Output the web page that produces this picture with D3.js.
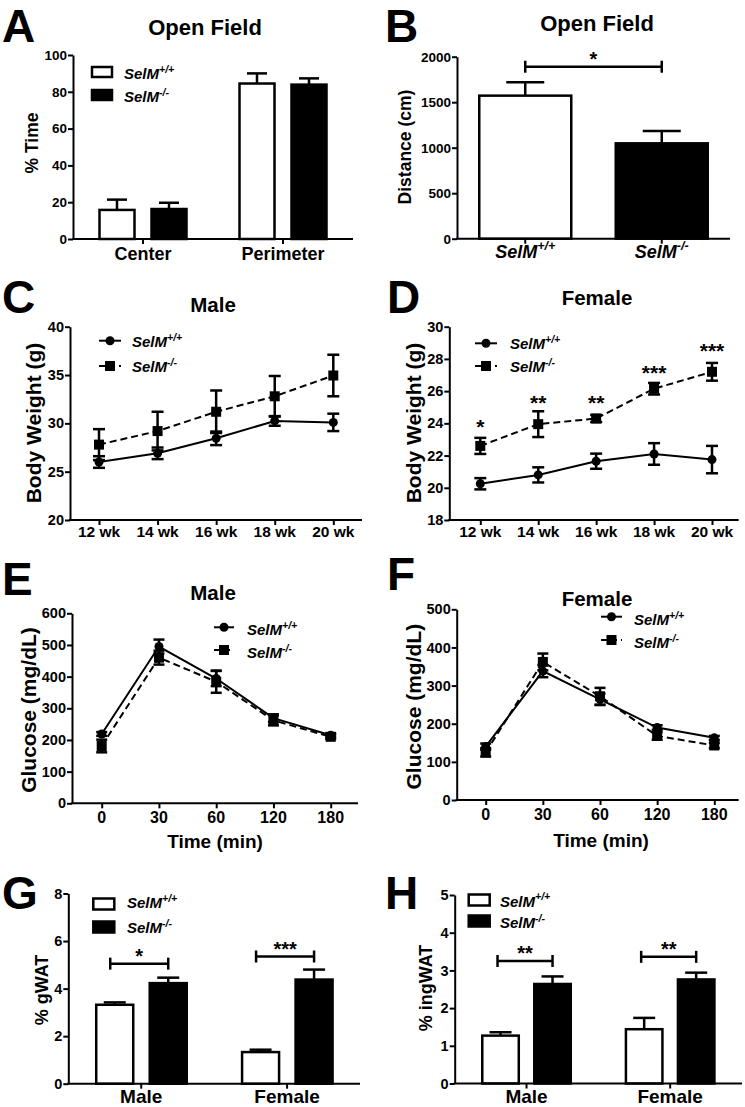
<!DOCTYPE html>
<html><head><meta charset="utf-8">
<script src="https://cdn.jsdelivr.net/npm/d3@7"></script>
<style>
html,body{margin:0;padding:0;background:#fff}
svg{display:block}
</style>
</head><body>
<svg id="fig" width="745" height="1107"></svg>
<script>
// ---------------- DATA ----------------
// Panel A: Open field, % time
const openFieldZones = ["Center", "Perimeter"];
const timeWT = [15.8, 84.5];
const timeWTErr = [5.6, 5.5];
const timeKO = [16.3, 83.9];
const timeKOErr = [3.4, 3.4];
const timeTicks = [0, 20, 40, 60, 80, 100];

// Panel B: Open field, distance
const genotypes = ["+/+", "-/-"];
const distance = [1572, 1048];
const distanceErr = [146, 135];
const distanceTicks = [0, 500, 1000, 1500, 2000];
const distanceSig = "*";
const distanceBracketAt = 1890;

// Panels C, D: body weight
const weeks = ["12 wk", "14 wk", "16 wk", "18 wk", "20 wk"];
const maleBW_WT = [26.0, 26.9, 28.45, 30.25, 30.1];
const maleBW_WTErr = [0.6, 0.6, 0.7, 0.5, 0.9];
const maleBW_KO = [27.8, 29.2, 31.2, 32.8, 34.95];
const maleBW_KOErr = [1.6, 2.0, 2.2, 2.1, 2.15];
const maleBWTicks = [20, 25, 30, 35, 40];
const femaleBW_WT = [20.25, 20.8, 21.65, 22.1, 21.75];
const femaleBW_WTErr = [0.35, 0.47, 0.47, 0.67, 0.85];
const femaleBW_KO = [22.6, 23.95, 24.3, 26.15, 27.2];
const femaleBW_KOErr = [0.5, 0.8, 0.22, 0.36, 0.55];
const femaleBWTicks = [18, 20, 22, 24, 26, 28, 30];
const femaleBWSig = ["*", "**", "**", "***", "***"];
const femaleBWSigAt = [24.1, 25.55, 25.55, 27.45, 28.8];

// Panels E, F: glucose tolerance
const gttTimes = ["0", "30", "60", "120", "180"];
const maleGlc_WT = [219, 495, 394, 269, 215];
const maleGlc_WTErr = [6, 22, 24, 12, 6];
const maleGlc_KO = [181, 460, 384, 262, 210];
const maleGlc_KOErr = [20, 22, 35, 16, 7];
const maleGlcTicks = [0, 100, 200, 300, 400, 500, 600];
const femaleGlc_WT = [140, 338, 264, 190, 163];
const femaleGlc_WTErr = [8, 16, 15, 6, 5];
const femaleGlc_KO = [125, 362, 272, 168, 143];
const femaleGlc_KOErr = [11, 22, 22, 10, 7];
const femaleGlcTicks = [0, 100, 200, 300, 400, 500];

// Panels G, H: fat pads
const sexes = ["Male", "Female"];
const gWAT_WT = [3.32, 1.33];
const gWAT_WTErr = [0.1, 0.1];
const gWAT_KO = [4.23, 4.38];
const gWAT_KOErr = [0.23, 0.42];
const gWATTicks = [0, 2, 4, 6, 8];
const gWATSig = ["*", "***"];
const gWATBracketAt = [5.05, 5.35];
const ingWAT_WT = [1.27, 1.44];
const ingWAT_WTErr = [0.09, 0.3];
const ingWAT_KO = [2.64, 2.76];
const ingWAT_KOErr = [0.2, 0.18];
const ingWATTicks = [0, 1, 2, 3, 4, 5];
const ingWATSig = ["**", "**"];
const ingWATBracketAt = [3.25, 3.36];

// ---------------- DRAWING ----------------
const svg = d3.select("#fig");
const FONT = "'Liberation Sans', Arial, Helvetica, sans-serif";

function txt(x, y, s, size, anchor, italic) {
  const t = svg.append("text").attr("x", x).attr("y", y)
    .attr("font-size", size).attr("font-weight", "bold").attr("font-family", FONT)
    .attr("fill", "#000").attr("text-anchor", anchor || "start");
  if (italic) t.attr("font-style", "italic");
  t.text(s);
  return t;
}
function genoText(x, y, sup, size, anchor) {
  const t = svg.append("text").attr("x", x).attr("y", y)
    .attr("font-size", size).attr("font-weight", "bold").attr("font-style", "italic")
    .attr("font-family", FONT).attr("fill", "#000").attr("text-anchor", anchor || "start");
  t.append("tspan").text("SelM");
  t.append("tspan").attr("dy", -size * 0.42).attr("font-size", size * 0.7).text(sup);
  return t;
}
function yLabel(s, cx, cy, size) {
  svg.append("text").attr("transform", `translate(${cx},${cy}) rotate(-90)`)
    .attr("text-anchor", "middle").attr("dy", "0.36em")
    .attr("font-size", size).attr("font-weight", "bold").attr("font-family", FONT)
    .attr("fill", "#000").text(s);
}
function yAxis(y, x, ticks, fs) {
  const g = svg.append("g").attr("transform", `translate(${x},0)`)
    .call(d3.axisLeft(y).tickValues(ticks).tickFormat(d => String(d))
      .tickSize(5).tickSizeOuter(0).tickPadding(1));
  g.select(".domain").attr("stroke", "#000").attr("stroke-width", 2);
  g.selectAll(".tick line").attr("stroke", "#000").attr("stroke-width", 2);
  g.selectAll(".tick text").attr("font-size", fs).attr("font-weight", "bold")
    .attr("font-family", FONT).attr("fill", "#000");
}
function xAxis(x, x0, x1, yb) {
  svg.append("line").attr("x1", x0 - 1).attr("x2", x1).attr("y1", yb).attr("y2", yb)
    .attr("stroke", "#000").attr("stroke-width", 2);
  const g = svg.append("g").attr("transform", `translate(0,${yb})`)
    .call(d3.axisBottom(x).tickSize(5).tickSizeOuter(0).tickFormat(""));
  g.select(".domain").remove();
  g.selectAll(".tick line").attr("stroke", "#000").attr("stroke-width", 2);
}
function vline(x, y1, y2, w) {
  svg.append("line").attr("x1", x).attr("x2", x).attr("y1", y1).attr("y2", y2)
    .attr("stroke", "#000").attr("stroke-width", w || 2.5);
}
function hline(x1, x2, y, w) {
  svg.append("line").attr("x1", x1).attr("x2", x2).attr("y1", y).attr("y2", y)
    .attr("stroke", "#000").attr("stroke-width", w || 2.5);
}

// bar panel
function barPanel(p) {
  const x = d3.scaleBand().domain(p.groups).range([p.x0, p.x1]);
  const y = d3.scaleLinear().domain([0, p.max]).range([p.yBot, p.yTop]);
  yAxis(y, p.x0, p.ticks, p.tickFs);
  const cxOf = b => x(b.g) + x.bandwidth() / 2 + b.off;
  const g = svg.append("g");
  g.selectAll("line.ev").data(p.bars).enter().append("line")
    .attr("x1", cxOf).attr("x2", cxOf)
    .attr("y1", b => y(b.v)).attr("y2", b => y(b.v + b.e))
    .attr("stroke", "#000").attr("stroke-width", 2.5);
  g.selectAll("line.cap").data(p.bars).enter().append("line")
    .attr("x1", b => cxOf(b) - p.capW / 2).attr("x2", b => cxOf(b) + p.capW / 2)
    .attr("y1", b => y(b.v + b.e)).attr("y2", b => y(b.v + b.e))
    .attr("stroke", "#000").attr("stroke-width", 2.5);
  g.selectAll("rect").data(p.bars).enter().append("rect")
    .attr("x", b => cxOf(b) - p.barW / 2).attr("width", p.barW)
    .attr("y", b => y(b.v)).attr("height", b => p.yBot - y(b.v))
    .attr("fill", b => b.fill).attr("stroke", "#000").attr("stroke-width", 2.5);
  xAxis(x, p.x0, p.x1, p.yBot);
  return { x, y, cxOf };
}
function bracket(xa, xb, yy, label, fs) {
  hline(xa, xb, yy, 2.5);
  vline(xa, yy - 6, yy + 6, 2.5);
  vline(xb, yy - 6, yy + 6, 2.5);
  txt((xa + xb) / 2, yy - 1, label, fs, "middle");
}
function barLegend(bx, by1, by2, bw, bh, tx, tb1, tb2, fs) {
  svg.append("rect").attr("x", bx).attr("y", by1).attr("width", bw).attr("height", bh)
    .attr("fill", "#fff").attr("stroke", "#000").attr("stroke-width", 2.5);
  svg.append("rect").attr("x", bx).attr("y", by2).attr("width", bw).attr("height", bh)
    .attr("fill", "#000").attr("stroke", "#000").attr("stroke-width", 2.5);
  genoText(tx, tb1, genotypes[0], fs);
  genoText(tx, tb2, genotypes[1], fs);
}

// line panel
function linePanel(p) {
  const x = d3.scalePoint().domain(p.cats).range([p.first, p.last]);
  const y = d3.scaleLinear().domain(p.domain).range([p.yBot, p.yTop]);
  yAxis(y, p.x0, p.ticks, 14.5);
  xAxis(x, p.x0, p.x1, p.yBot);
  const series = [
    { v: p.wt, e: p.wtErr, dash: null, shape: "circle" },
    { v: p.ko, e: p.koErr, dash: "7,4", shape: "square" }
  ];
  const line = d3.line().x((d, i) => x(p.cats[i])).y(d => y(d));
  series.forEach(s => {
    svg.append("path").datum(s.v).attr("d", line).attr("fill", "none")
      .attr("stroke", "#000").attr("stroke-width", 2)
      .attr("stroke-dasharray", s.dash);
  });
  series.forEach(s => {
    const g = svg.append("g");
    g.selectAll("line.ev").data(s.v).enter().append("line")
      .attr("x1", (d, i) => x(p.cats[i])).attr("x2", (d, i) => x(p.cats[i]))
      .attr("y1", (d, i) => y(d - s.e[i])).attr("y2", (d, i) => y(d + s.e[i]))
      .attr("stroke", "#000").attr("stroke-width", 2.5);
    [1, -1].forEach(sg => {
      g.selectAll("line.c" + (sg > 0 ? "t" : "b")).data(s.v).enter().append("line")
        .attr("x1", (d, i) => x(p.cats[i]) - p.capW / 2).attr("x2", (d, i) => x(p.cats[i]) + p.capW / 2)
        .attr("y1", (d, i) => y(d + sg * s.e[i])).attr("y2", (d, i) => y(d + sg * s.e[i]))
        .attr("stroke", "#000").attr("stroke-width", 2.5);
    });
    if (s.shape === "circle") {
      g.selectAll("circle").data(s.v).enter().append("circle")
        .attr("cx", (d, i) => x(p.cats[i])).attr("cy", d => y(d)).attr("r", 4.5).attr("fill", "#000");
    } else {
      g.selectAll("rect").data(s.v).enter().append("rect")
        .attr("x", (d, i) => x(p.cats[i]) - 5).attr("y", d => y(d) - 5)
        .attr("width", 10).attr("height", 10).attr("fill", "#000");
    }
  });
  p.cats.forEach(c => txt(x(c), p.labelBase, c, p.labelFs, "middle"));
  return { x, y };
}
function lineLegend(lx0, lx1, ly1, ly2, tx, tb1, tb2, fs) {
  const mx = (lx0 + lx1) / 2;
  hline(lx0, lx1, ly1, 2);
  svg.append("circle").attr("cx", mx).attr("cy", ly1).attr("r", 4.5).attr("fill", "#000");
  svg.append("line").attr("x1", lx0).attr("x2", lx1).attr("y1", ly2).attr("y2", ly2)
    .attr("stroke", "#000").attr("stroke-width", 2).attr("stroke-dasharray", "6,4");
  svg.append("rect").attr("x", mx - 5).attr("y", ly2 - 5).attr("width", 10).attr("height", 10).attr("fill", "#000");
  genoText(tx, tb1, genotypes[0], fs);
  genoText(tx, tb2, genotypes[1], fs);
}

const LETTER = 46;

// ---------- Panel A ----------
txt(2, 42, "A", LETTER);
txt(205, 35, "Open Field", 22, "middle");
yLabel("% Time", 32, 143, 17.5);
const pA = barPanel({
  groups: openFieldZones, x0: 73, x1: 353, yTop: 55, yBot: 239, max: 100, ticks: timeTicks, tickFs: 13.5,
  barW: 35, capW: 20,
  bars: openFieldZones.flatMap((z, i) => [
    { g: z, v: timeWT[i], e: timeWTErr[i], fill: "#fff", off: -26 },
    { g: z, v: timeKO[i], e: timeKOErr[i], fill: "#000", off: 26 }])
});
openFieldZones.forEach(z => txt(pA.x(z) + pA.x.bandwidth() / 2, 260, z, 18, "middle"));
barLegend(92, 67, 90, 20, 10, 124, 79, 102, 15);

// ---------- Panel B ----------
txt(385, 42, "B", LETTER);
txt(597, 31, "Open Field", 22, "middle");
yLabel("Distance (cm)", 405, 147, 17.5);
const pB = barPanel({
  groups: genotypes, x0: 457, x1: 730, yTop: 56.7, yBot: 238.7, max: 2000, ticks: distanceTicks, tickFs: 13.5,
  barW: 92, capW: 38,
  bars: genotypes.map((gt, i) => ({ g: gt, v: distance[i], e: distanceErr[i], fill: i ? "#000" : "#fff", off: 0 }))
});
genotypes.forEach(gt => genoText(pB.x(gt) + pB.x.bandwidth() / 2, 258, gt, 18, "middle"));
bracket(pB.cxOf({ g: genotypes[0], off: 0 }), pB.cxOf({ g: genotypes[1], off: 0 }), pB.y(distanceBracketAt), distanceSig, 20);

// ---------- Panel C ----------
txt(2, 313, "C", LETTER);
txt(213, 312, "Male", 20.5, "middle");
yLabel("Body Weight (g)", 33, 423, 21);
linePanel({
  cats: weeks, first: 99, last: 333.3, x0: 70, x1: 362, yTop: 326.7, yBot: 520, domain: [20, 40],
  ticks: maleBWTicks, wt: maleBW_WT, wtErr: maleBW_WTErr, ko: maleBW_KO, koErr: maleBW_KOErr,
  capW: 12, labelBase: 537, labelFs: 15.5
});
lineLegend(99, 121, 340.7, 366, 132, 347, 372, 15);

// ---------- Panel D ----------
txt(387, 313, "D", LETTER);
txt(597, 305, "Female", 20.5, "middle");
yLabel("Body Weight (g)", 413.7, 423, 21);
const pD = linePanel({
  cats: weeks, first: 480.3, last: 712, x0: 449.3, x1: 738.7, yTop: 326.7, yBot: 520, domain: [18, 30],
  ticks: femaleBWTicks, wt: femaleBW_WT, wtErr: femaleBW_WTErr, ko: femaleBW_KO, koErr: femaleBW_KOErr,
  capW: 12, labelBase: 537, labelFs: 15.5
});
weeks.forEach((w, i) => txt(pD.x(w), pD.y(femaleBWSigAt[i]) + 12, femaleBWSig[i], 21, "middle"));
lineLegend(475, 497, 343.3, 366, 510, 349, 372, 15);

// ---------- Panel E ----------
txt(2, 595, "E", LETTER);
txt(213, 600, "Male", 20.5, "middle");
yLabel("Glucose (mg/dL)", 28.3, 710, 21);
linePanel({
  cats: gttTimes, first: 101.7, last: 330.7, x0: 72, x1: 358, yTop: 613.3, yBot: 803.3, domain: [0, 600],
  ticks: maleGlcTicks, wt: maleGlc_WT, wtErr: maleGlc_WTErr, ko: maleGlc_KO, koErr: maleGlc_KOErr,
  capW: 11, labelBase: 823, labelFs: 16
});
txt(215, 848, "Time (min)", 19, "middle");
lineLegend(214, 234, 627.3, 650, 247, 635, 658, 15);

// ---------- Panel F ----------
txt(387, 590, "F", LETTER);
txt(597, 606, "Female", 20.5, "middle");
yLabel("Glucose (mg/dL)", 413.7, 706.7, 21);
linePanel({
  cats: gttTimes, first: 485.7, last: 714.3, x0: 456.7, x1: 738.7, yTop: 609.3, yBot: 800, domain: [0, 500],
  ticks: femaleGlcTicks, wt: femaleGlc_WT, wtErr: femaleGlc_WTErr, ko: femaleGlc_KO, koErr: femaleGlc_KOErr,
  capW: 11, labelBase: 820, labelFs: 16
});
txt(601, 847, "Time (min)", 19, "middle");
lineLegend(601, 622, 616.7, 640, 634, 625, 648, 15);

// ---------- Panel G ----------
txt(2, 909, "G", LETTER);
yLabel("% gWAT", 41.7, 990, 18);
const pG = barPanel({
  groups: sexes, x0: 68.3, x1: 360, yTop: 893.5, yBot: 1083.7, max: 8, ticks: gWATTicks, tickFs: 14.5,
  barW: 37, capW: 22,
  bars: sexes.flatMap((s, i) => [
    { g: s, v: gWAT_WT[i], e: gWAT_WTErr[i], fill: "#fff", off: -26.5 },
    { g: s, v: gWAT_KO[i], e: gWAT_KOErr[i], fill: "#000", off: 27 }])
});
sexes.forEach((s, i) => {
  txt(pG.x(s) + pG.x.bandwidth() / 2, 1103, s, 19, "middle");
  bracket(pG.cxOf({ g: s, off: -31 }), pG.cxOf({ g: s, off: 27 }), pG.y(gWATBracketAt[i]), gWATSig[i], 20);
});
barLegend(93.3, 898.5, 921.5, 21, 11, 127, 908, 933, 15);

// ---------- Panel H ----------
txt(385, 909, "H", LETTER);
yLabel("% ingWAT", 425.3, 988, 18);
const pH = barPanel({
  groups: sexes, x0: 454.7, x1: 742, yTop: 895, yBot: 1083.5, max: 5, ticks: ingWATTicks, tickFs: 14.5,
  barW: 36.5, capW: 22,
  bars: sexes.flatMap((s, i) => [
    { g: s, v: ingWAT_WT[i], e: ingWAT_WTErr[i], fill: "#fff", off: -26 },
    { g: s, v: ingWAT_KO[i], e: ingWAT_KOErr[i], fill: "#000", off: 26 }])
});
sexes.forEach((s, i) => {
  txt(pH.x(s) + pH.x.bandwidth() / 2, 1103, s, 19, "middle");
  bracket(pH.cxOf({ g: s, off: -29 }), pH.cxOf({ g: s, off: 26 }), pH.y(ingWATBracketAt[i]), ingWATSig[i], 20);
});
barLegend(468.7, 894.5, 915.5, 21, 11, 500, 906.5, 928, 15);
</script>
</body></html>
